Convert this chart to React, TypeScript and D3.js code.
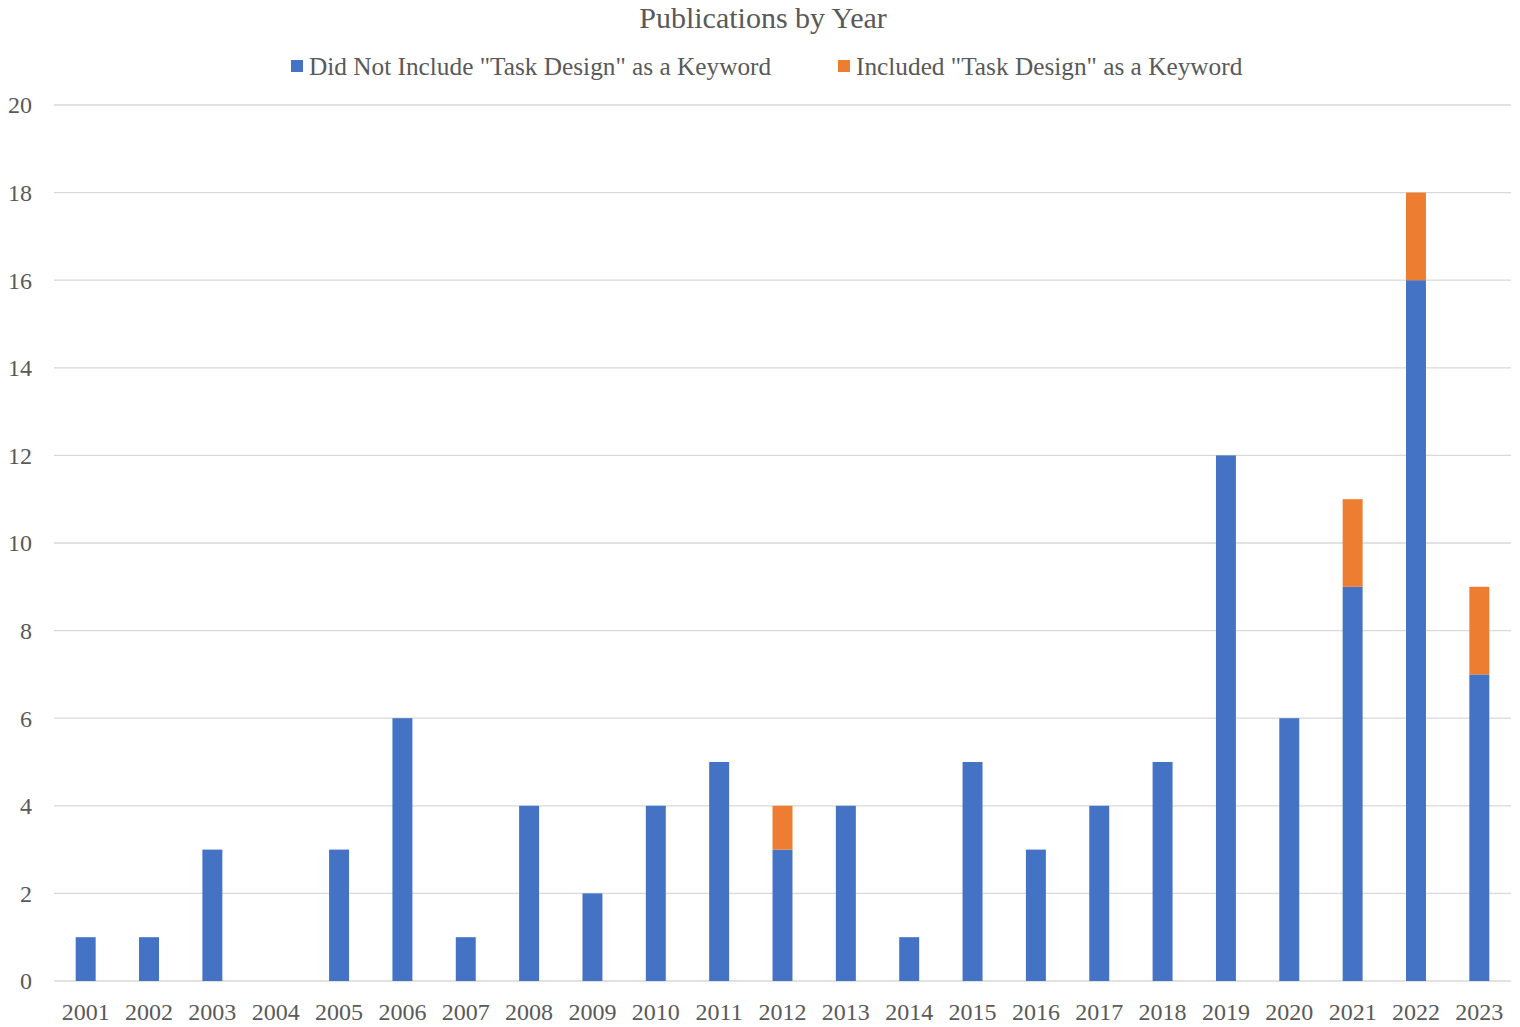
import { useEffect, useRef } from 'react';
import * as d3 from 'd3';

const years = ['2001', '2002', '2003', '2004', '2005', '2006', '2007', '2008', '2009', '2010', '2011', '2012', '2013', '2014', '2015', '2016', '2017', '2018', '2019', '2020', '2021', '2022', '2023'];
const notIncluded = [1, 1, 3, 0, 3, 6, 1, 4, 2, 4, 5, 3, 4, 1, 5, 3, 4, 5, 12, 6, 9, 16, 7];
const included = [0, 0, 0, 0, 0, 0, 0, 0, 0, 0, 0, 1, 0, 0, 0, 0, 0, 0, 0, 0, 2, 2, 2];
const yTicks = [0, 2, 4, 6, 8, 10, 12, 14, 16, 18, 20];
const seriesNames = ['Did Not Include "Task Design" as a Keyword', 'Included "Task Design" as a Keyword'];
const colors = ['#4472c4', '#ed7d31'];

export default function App() {
  const svgRef = useRef<SVGSVGElement>(null);

  useEffect(() => {
    const width = 1520;
    const height = 1027;
    const font = '"Liberation Serif", "Times New Roman", serif';
    const textColor = '#595959';

    const svg = d3.select(svgRef.current);
    svg.selectAll('*').remove();
    svg.attr('width', width).attr('height', height).style('font-family', font);

    svg.append('rect').attr('width', width).attr('height', height).attr('fill', '#fff');

    const left = 54;
    const right = 1511;
    const top = 105;
    const bottom = 981;

    const x = d3.scaleBand().domain(years).range([left, right]).paddingInner(0.685).paddingOuter(0.3425);
    const y = d3.scaleLinear().domain([0, 20]).range([bottom, top]);

    // grid
    svg.append('g')
      .selectAll('line')
      .data(yTicks)
      .enter()
      .append('line')
      .attr('x1', left)
      .attr('x2', right)
      .attr('y1', d => y(d))
      .attr('y2', d => y(d))
      .attr('stroke', '#d9d9d9')
      .attr('stroke-width', 1.3);

    // y labels
    svg.append('g')
      .selectAll('text')
      .data(yTicks)
      .enter()
      .append('text')
      .attr('x', 32)
      .attr('y', d => y(d))
      .attr('dy', '0.35em')
      .attr('text-anchor', 'end')
      .attr('fill', textColor)
      .style('font-size', '24px')
      .text(d => d);

    // stacked bars
    const rows = years.map((yr, i) => ({ year: yr, a: notIncluded[i], b: included[i] }));
    const stack = d3.stack<any>().keys(['a', 'b'])(rows);

    svg.append('g')
      .selectAll('g')
      .data(stack)
      .enter()
      .append('g')
      .attr('fill', (d, i) => colors[i])
      .selectAll('rect')
      .data(d => d)
      .enter()
      .append('rect')
      .attr('x', d => x(d.data.year) as number)
      .attr('width', x.bandwidth())
      .attr('y', d => y(d[1]))
      .attr('height', d => y(d[0]) - y(d[1]));

    // x labels
    svg.append('g')
      .selectAll('text')
      .data(years)
      .enter()
      .append('text')
      .attr('x', d => (x(d) as number) + x.bandwidth() / 2)
      .attr('y', 1020)
      .attr('text-anchor', 'middle')
      .attr('fill', textColor)
      .style('font-size', '24px')
      .text(d => d);

    // title
    svg.append('text')
      .attr('x', 763)
      .attr('y', 28)
      .attr('text-anchor', 'middle')
      .attr('fill', textColor)
      .style('font-size', '30px')
      .text('Publications by Year');

    // legend
    const legendX = [291, 838];
    const legend = svg.append('g')
      .selectAll('g')
      .data(seriesNames)
      .enter()
      .append('g')
      .attr('transform', (d, i) => `translate(${legendX[i]},66)`);
    legend.append('rect')
      .attr('x', 0)
      .attr('y', -6)
      .attr('width', 12)
      .attr('height', 12)
      .attr('fill', (d, i) => colors[i]);
    legend.append('text')
      .attr('x', 18)
      .attr('y', 0)
      .attr('dy', '0.35em')
      .attr('fill', textColor)
      .style('font-size', '25.3px')
      .text(d => d);
  }, []);

  return <svg ref={svgRef} style={{ position: 'absolute', left: 0, top: 0 }}></svg>;
}
